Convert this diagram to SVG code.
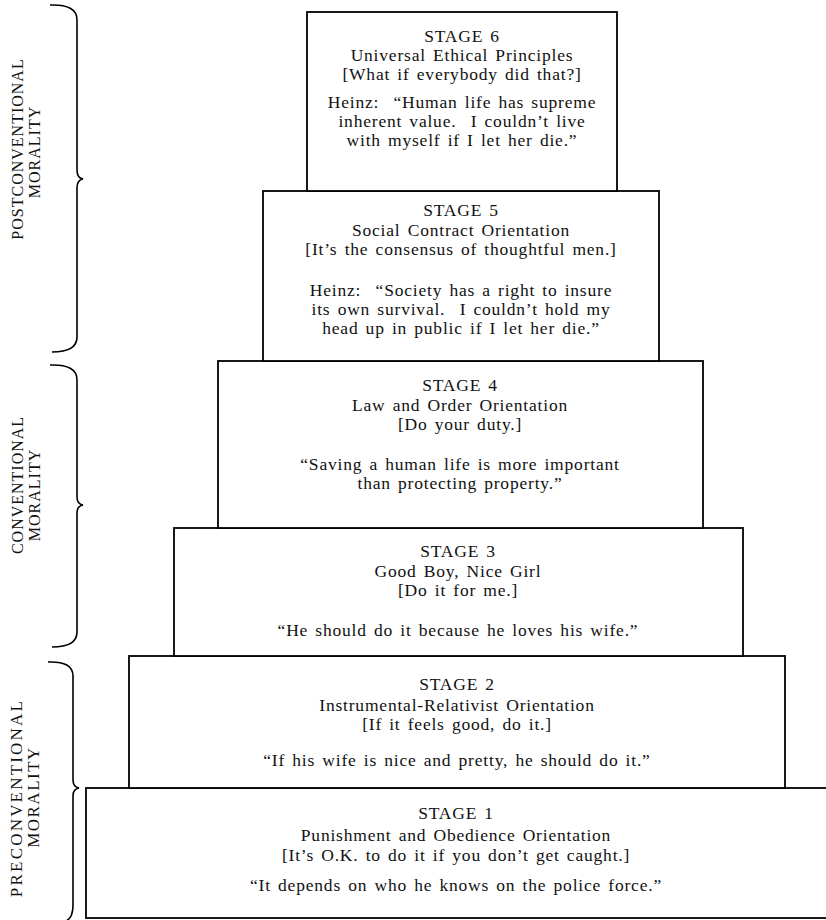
<svg xmlns="http://www.w3.org/2000/svg" width="826" height="920" viewBox="0 0 826 920">
<style>
.box{fill:#fff;stroke:#000;stroke-width:1.8}
.t{font-family:"Liberation Serif","Times New Roman",serif;font-size:17.5px;fill:#111;text-anchor:middle;letter-spacing:0.8px;word-spacing:2px}
.lab{font-family:"Liberation Serif","Times New Roman",serif;font-size:16px;fill:#111;text-anchor:middle;letter-spacing:1px}
.brace{fill:none;stroke:#000;stroke-width:1.6}
</style>
<rect width="826" height="920" fill="#fff"/>
<g id="stage1">
<rect class="box" x="86" y="788" width="780" height="130"/>
<text class="t" x="456" y="819">STAGE 1</text>
<text class="t" x="456" y="841">Punishment and Obedience Orientation</text>
<text class="t" x="456" y="861">[It’s O.K. to do it if you don’t get caught.]</text>
<text class="t" x="456" y="891">“It depends on who he knows on the police force.”</text>
</g>
<g id="stage2">
<rect class="box" x="129" y="656" width="656" height="132"/>
<text class="t" x="457" y="690">STAGE 2</text>
<text class="t" x="457" y="711">Instrumental-Relativist Orientation</text>
<text class="t" x="457" y="730">[If it feels good, do it.]</text>
<text class="t" x="457" y="766">“If his wife is nice and pretty, he should do it.”</text>
</g>
<g id="stage3">
<rect class="box" x="174" y="528" width="569" height="128"/>
<text class="t" x="458" y="557">STAGE 3</text>
<text class="t" x="458" y="577">Good Boy, Nice Girl</text>
<text class="t" x="458" y="596">[Do it for me.]</text>
<text class="t" x="458" y="636">“He should do it because he loves his wife.”</text>
</g>
<g id="stage4">
<rect class="box" x="218" y="361" width="485" height="167"/>
<text class="t" x="460" y="391">STAGE 4</text>
<text class="t" x="460" y="411">Law and Order Orientation</text>
<text class="t" x="460" y="430">[Do your duty.]</text>
<text class="t" x="460" y="470">“Saving a human life is more important</text>
<text class="t" x="460" y="489">than protecting property.”</text>
</g>
<g id="stage5">
<rect class="box" x="263" y="191" width="396" height="170"/>
<text class="t" x="461" y="216">STAGE 5</text>
<text class="t" x="461" y="236">Social Contract Orientation</text>
<text class="t" x="461" y="255">[It’s the consensus of thoughtful men.]</text>
<text class="t" x="461" y="296">Heinz:&#160; “Society has a right to insure</text>
<text class="t" x="461" y="315">its own survival.&#160; I couldn’t hold my</text>
<text class="t" x="461" y="334">head up in public if I let her die.”</text>
</g>
<g id="stage6">
<rect class="box" x="307" y="12" width="310" height="179"/>
<text class="t" x="462" y="42">STAGE 6</text>
<text class="t" x="462" y="61">Universal Ethical Principles</text>
<text class="t" x="462" y="80">[What if everybody did that?]</text>
<text class="t" x="462" y="108">Heinz:&#160; “Human life has supreme</text>
<text class="t" x="462" y="127">inherent value.&#160; I couldn’t live</text>
<text class="t" x="462" y="146">with myself if I let her die.”</text>
</g>
<g id="postconventional">
<path class="brace" d="M50,5 Q77,4 77,20 L77,170 Q77,178 83,179 Q77,180 77,188 L77,337 Q77,352 52,352"/>
<text class="lab" transform="translate(23,149) rotate(-90)">POSTCONVENTIONAL</text>
<text class="lab" transform="translate(40,152) rotate(-90)">MORALITY</text>
</g>
<g id="conventional">
<path class="brace" d="M50,365 Q77,364 77,380 L77,497 Q77,504 83,505 Q77,506 77,513 L77,632 Q77,647 52,647"/>
<text class="lab" transform="translate(23,485) rotate(-90)">CONVENTIONAL</text>
<text class="lab" transform="translate(40,495) rotate(-90)">MORALITY</text>
</g>
<g id="preconventional">
<path class="brace" d="M48,662 Q73,661 73,676 L73,780 Q73,787 79,788 Q73,789 73,796 L73,905 Q73,918 66,921"/>
<text class="lab" style="font-size:17px;letter-spacing:2.2px" transform="translate(22,798) rotate(-90)">PRECONVENTIONAL</text>
<text class="lab" style="font-size:17px;letter-spacing:1.5px" transform="translate(39,797) rotate(-90)">MORALITY</text>
</g>
</svg>
